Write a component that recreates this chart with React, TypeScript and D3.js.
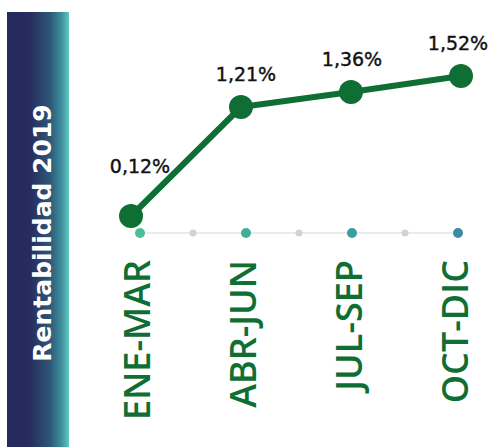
import React from "react";
import * as d3 from "d3";

const categories = ["ENE-MAR", "ABR-JUN", "JUL-SEP", "OCT-DIC"];
const values = [0.12, 1.21, 1.36, 1.52];
const valueLabels = ["0,12%", "1,21%", "1,36%", "1,52%"];
const title = "Rentabilidad 2019";
const axisDotColors = ["#4dbf96", "#42ae98", "#3d9ea0", "#3b8ba6"];

const W = 497;
const H = 447;
const GREEN = "#0f6e33";

export default function App() {
  const x = d3.scalePoint<string>().domain(categories).range([131, 461]);
  const xAxis = d3.scalePoint<string>().domain(categories).range([140, 458]);
  const y = d3.scaleLinear().domain([0, 1.52]).range([228, 76]);
  const axisY = 233;

  const line = d3
    .line<number>()
    .x((_, i) => x(categories[i]) as number)
    .y((d) => y(d))
    .curve(d3.curveLinear);

  const step = xAxis.step();

  return (
    <svg
      width={W}
      height={H}
      style={{ position: "absolute", left: 0, top: 0, display: "block" }}
    >
      <defs>
        <linearGradient id="panelGrad" x1="0" x2="1" y1="0" y2="0">
          <stop offset="0" stopColor="#252a5c" />
          <stop offset="0.37" stopColor="#262c5d" />
          <stop offset="0.7" stopColor="#2e5878" />
          <stop offset="0.88" stopColor="#3f8f9e" />
          <stop offset="1" stopColor="#5ec8c2" />
        </linearGradient>
      </defs>
      <rect x={7} y={12} width={62} height={H - 12} fill="url(#panelGrad)" />
      <text
        transform={`translate(51,233) rotate(-90)`}
        textAnchor="middle"
        fill="#ffffff"
        fontFamily="DejaVu Sans, sans-serif"
        fontWeight="bold"
        fontSize={25}
      >
        {title}
      </text>

      <line
        x1={xAxis(categories[0])}
        x2={xAxis(categories[categories.length - 1])}
        y1={axisY}
        y2={axisY}
        stroke="#e4e4e4"
        strokeWidth={1.5}
      />
      {categories.slice(0, -1).map((c) => (
        <circle
          key={"g" + c}
          cx={(xAxis(c) as number) + step / 2}
          cy={axisY}
          r={3.5}
          fill="#d2d2d2"
        />
      ))}
      {categories.map((c, i) => (
        <circle
          key={"a" + c}
          cx={xAxis(c)}
          cy={axisY}
          r={5}
          fill={axisDotColors[i]}
        />
      ))}

      <path
        d={line(values) || ""}
        fill="none"
        stroke={GREEN}
        strokeWidth={6}
        strokeLinejoin="round"
      />
      {values.map((v, i) => (
        <circle
          key={"p" + i}
          cx={x(categories[i])}
          cy={y(v)}
          r={12}
          fill={GREEN}
        />
      ))}
      {values.map((v, i) => (
        <text
          key={"l" + i}
          x={xAxis(categories[i])}
          y={y(v) - (i === 0 ? 43 : 26)}
          textAnchor="middle"
          fill="#111111"
          fontFamily="DejaVu Sans, sans-serif"
          fontSize={19}
          stroke="#111111"
          strokeWidth={0.4}
        >
          {valueLabels[i]}
        </text>
      ))}

      {categories.map((c) => (
        <text
          key={"c" + c}
          transform={`translate(${(xAxis(c) as number) - 4},260) rotate(-90)`}
          textAnchor="end"
          dominantBaseline="central"
          fill={GREEN}
          fontFamily="'Open Sans', sans-serif"
          fontWeight={600}
          fontSize={36}
        >
          {c}
        </text>
      ))}
    </svg>
  );
}
